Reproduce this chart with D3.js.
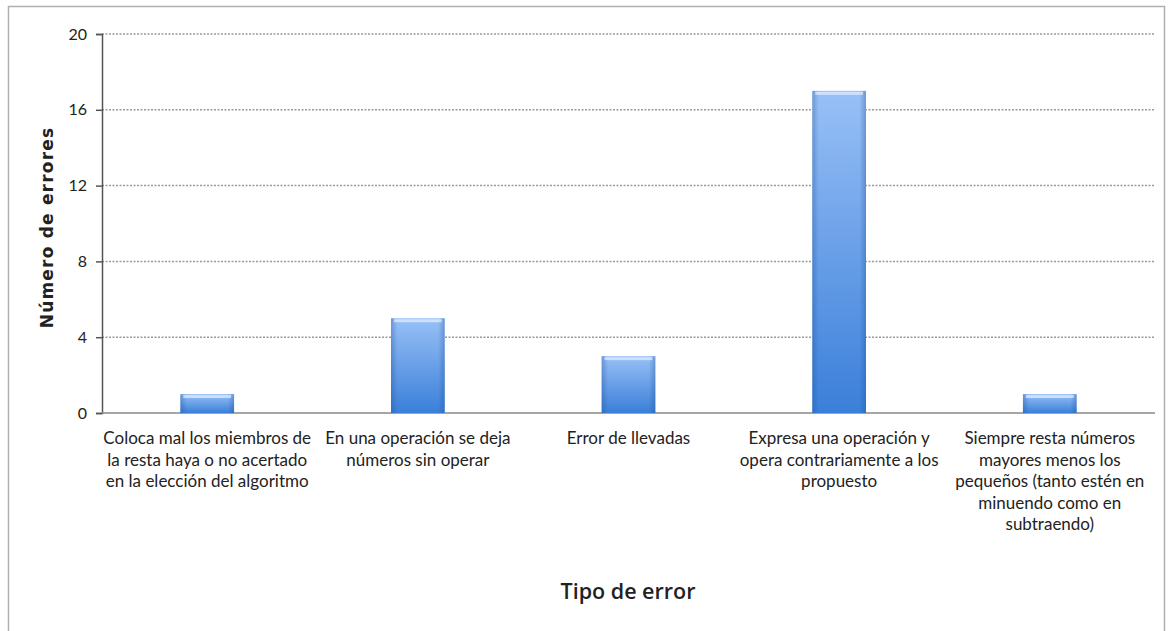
<!DOCTYPE html>
<html>
<head>
<meta charset="utf-8">
<script src="https://cdn.jsdelivr.net/npm/d3@7"></script>
<style>
  body { margin: 0; background: #fff; }
  text { fill: #222; }
</style>
</head>
<body>
<svg></svg>
<script>
const categories = [
    ["Coloca mal los miembros de", "la resta haya o no acertado", "en la elección del algoritmo"],
    ["En una operación se deja", "números sin operar"],
    ["Error de llevadas"],
    ["Expresa una operación y", "opera contrariamente a los", "propuesto"],
    ["Siempre resta números", "mayores menos los", "pequeños (tanto estén en", "minuendo como en", "subtraendo)"]
];
const errores = [1, 5, 3, 17, 1];
const yTicks = [0, 4, 8, 12, 16, 20];

const width = 1170, height = 631;
const margin = { left: 102, right: 15, top: 34, bottom: 218 };

const svg = d3.select("svg")
    .attr("width", width)
    .attr("height", height);

// outer frame
svg.append("rect")
    .attr("x", 8.5).attr("y", 6.5)
    .attr("width", 1156).attr("height", 640)
    .attr("fill", "#fff")
    .attr("stroke", "#b0b0b0")
    .attr("stroke-width", 1.5);

const x = d3.scaleBand()
    .domain(d3.range(categories.length))
    .range([margin.left, width - margin.right])
    .paddingInner(0.745)
    .paddingOuter(0.372);

const y = d3.scaleLinear()
    .domain([0, 20])
    .range([height - margin.bottom, margin.top]);

// gradients
const defs = svg.append("defs");
const g1 = defs.append("linearGradient").attr("id", "barV")
    .attr("x1", 0).attr("y1", 0).attr("x2", 0).attr("y2", 1);
g1.append("stop").attr("offset", "0%").attr("stop-color", "#98c0f6");
g1.append("stop").attr("offset", "100%").attr("stop-color", "#3a7fd9");
const g2 = defs.append("linearGradient").attr("id", "barH")
    .attr("x1", 0).attr("y1", 0).attr("x2", 1).attr("y2", 0);
g2.append("stop").attr("offset", "0%").attr("stop-color", "#1d4f96").attr("stop-opacity", 0.35);
g2.append("stop").attr("offset", "12%").attr("stop-color", "#1d4f96").attr("stop-opacity", 0);
g2.append("stop").attr("offset", "88%").attr("stop-color", "#1d4f96").attr("stop-opacity", 0);
g2.append("stop").attr("offset", "100%").attr("stop-color", "#1d4f96").attr("stop-opacity", 0.35);

// gridlines
svg.append("g")
    .selectAll("line")
    .data(yTicks.filter(d => d > 0))
    .join("line")
    .attr("x1", margin.left).attr("x2", width - margin.right)
    .attr("y1", d => y(d)).attr("y2", d => y(d))
    .attr("stroke", "#9a9a9a")
    .attr("stroke-width", 1.5)
    .attr("stroke-dasharray", "2,1.5");

// y axis
const yAxis = svg.append("g")
    .attr("transform", `translate(${margin.left},0)`)
    .call(d3.axisLeft(y).tickValues(yTicks).tickSize(6).tickPadding(9));
yAxis.select(".domain").attr("stroke", "#555").attr("stroke-width", 1.5);
yAxis.selectAll(".tick line").attr("stroke", "#555").attr("stroke-width", 1.5);
yAxis.selectAll(".tick text")
    .style("font-family", "Lato, sans-serif")
    .style("font-size", "16px")
    .attr("fill", "#333");

// baseline
svg.append("line")
    .attr("x1", margin.left).attr("x2", width - margin.right)
    .attr("y1", y(0)).attr("y2", y(0))
    .attr("stroke", "#888").attr("stroke-width", 1.5);

// bars
const bars = svg.append("g").selectAll("g")
    .data(errores)
    .join("g");
bars.append("rect")
    .attr("x", (d, i) => x(i))
    .attr("y", d => y(d))
    .attr("width", x.bandwidth())
    .attr("height", d => y(0) - y(d))
    .attr("fill", "url(#barV)");
bars.append("rect")
    .attr("x", (d, i) => x(i))
    .attr("y", d => y(d))
    .attr("width", x.bandwidth())
    .attr("height", d => y(0) - y(d))
    .attr("fill", "url(#barH)");
// top highlight
bars.append("rect")
    .attr("x", (d, i) => x(i) + 3)
    .attr("y", d => y(d) + 1)
    .attr("width", x.bandwidth() - 6)
    .attr("height", 3)
    .attr("fill", "#e4f0ff")
    .attr("opacity", 0.7);

// category labels
const catG = svg.append("g");
categories.forEach((lines, i) => {
    const t = catG.append("text")
        .attr("x", x(i) + x.bandwidth() / 2)
        .attr("y", y(0) + 31)
        .attr("text-anchor", "middle")
        .style("font-family", "Lato, sans-serif")
        .style("font-size", "17px")
        .attr("fill", "#333");
    lines.forEach((l, j) => {
        t.append("tspan")
            .attr("x", x(i) + x.bandwidth() / 2)
            .attr("dy", j === 0 ? 0 : 21.5)
            .text(l);
    });
});

// axis titles
svg.append("text")
    .attr("transform", `translate(53,${(y(0) + y(20)) / 2 + 4}) rotate(-90)`)
    .attr("text-anchor", "middle")
    .style("font-family", "'DejaVu Sans', sans-serif")
    .style("font-weight", "bold")
    .style("font-size", "17px")
    .style("letter-spacing", "1.2px")
    .attr("fill", "#222")
    .text("Número de errores");

svg.append("text")
    .attr("x", 628)
    .attr("y", 599)
    .attr("text-anchor", "middle")
    .style("font-family", "'Open Sans', sans-serif")
    .style("font-weight", "600")
    .style("font-size", "21.5px")
    .attr("fill", "#222")
    .text("Tipo de error");
</script>
</body>
</html>
